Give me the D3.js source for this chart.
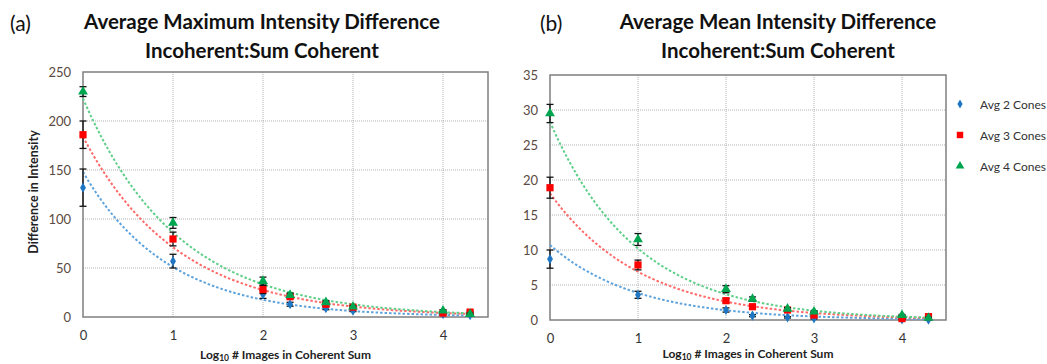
<!DOCTYPE html>
<html>
<head>
<meta charset="utf-8">
<script src="https://cdn.jsdelivr.net/npm/d3@7"></script>
<style>
  html, body { margin: 0; padding: 0; background: #fff; }
  svg { display: block; font-family: Lato, "Open Sans", sans-serif; }
</style>
</head>
<body>
<svg id="chart" width="1047" height="364"></svg>
<script>
// x positions: log10 of # images in the coherent sum
const xLog = [0, 1, 2, 2.301, 2.699, 3, 4, 4.301];
const seriesNames = ["Avg 2 Cones", "Avg 3 Cones", "Avg 4 Cones"];

// (a) average maximum intensity difference
const maxAvg2 = [132, 57, 23, 13, 9, 6.5, 3, 2];
const maxAvg3 = [186, 79.6, 28, 20.7, 13, 10, 4, 5];
const maxAvg4 = [230, 96, 36.7, 22.4, 15, 10.5, 6.4, 3];
const maxErr2 = [19, 7, 4, 2, 1.5, 1, 1, 0.5];
const maxErr3 = [14, 7, 4, 2, 1.5, 1, 1, 1];
const maxErr4 = [5, 5.5, 4, 2, 1.5, 1, 1, 1];
const maxTrendA = [148, 184, 223];
const maxTrendB = [1.065, 0.95, 0.95];
const maxYTicks = [0, 50, 100, 150, 200, 250];

// (b) average mean intensity difference
const meanAvg2 = [8.7, 3.6, 1.43, 0.62, 0.38, 0.24, 0.1, 0.05];
const meanAvg3 = [18.9, 7.86, 2.76, 1.9, 1.43, 0.71, 0.2, 0.48];
const meanAvg4 = [29.5, 11.5, 4.4, 3.0, 1.6, 1.2, 0.7, 0.3];
const meanErr2 = [1.3, 0.5, 0.3, 0.15, 0.1, 0.1, 0.05, 0.05];
const meanErr3 = [1.5, 0.7, 0.3, 0.2, 0.15, 0.1, 0.1, 0.1];
const meanErr4 = [1.3, 0.85, 0.5, 0.3, 0.15, 0.1, 0.1, 0.1];
const meanTrendA = [10.7, 18.1, 28.3];
const meanTrendB = [1.02, 0.965, 1.02];
const meanYTicks = [0, 5, 10, 15, 20, 25, 30, 35];

const xTicks = [0, 1, 2, 3, 4];

const markColors = ["#1f77c4", "#ff0000", "#00a550"];
const trendColors = ["#5fa3dc", "#ff6b6b", "#5fcf8a"];
const markShapes = [d3.symbolDiamond, d3.symbolSquare, d3.symbolTriangle];
const markSizes = [30, 52, 42];

const svg = d3.select("#chart");

function drawPanel(cfg) {
  const x = d3.scaleLinear().domain([0, 4.5]).range([cfg.left, cfg.right]);
  const y = d3.scaleLinear().domain([0, cfg.yMax]).range([cfg.bottom, cfg.top]);
  const g = svg.append("g");

  // grid
  g.selectAll(".hg").data(cfg.yTicks.slice(1, -1)).enter().append("line")
    .attr("x1", cfg.left).attr("x2", cfg.right)
    .attr("y1", d => y(d)).attr("y2", d => y(d))
    .attr("stroke", "#b3b3b3").attr("stroke-width", 1).attr("stroke-dasharray", "1,1");
  g.selectAll(".vg").data(xTicks.slice(1)).enter().append("line")
    .attr("x1", d => x(d)).attr("x2", d => x(d))
    .attr("y1", cfg.top).attr("y2", cfg.bottom)
    .attr("stroke", "#b3b3b3").attr("stroke-width", 1).attr("stroke-dasharray", "1,1");

  // frame
  g.append("rect")
    .attr("x", cfg.left).attr("y", cfg.top)
    .attr("width", cfg.right - cfg.left).attr("height", cfg.bottom - cfg.top)
    .attr("fill", "none").attr("stroke", "#7f7f7f").attr("stroke-width", 1.5);

  // axes (labels only, Excel style)
  const yAxis = g.append("g").attr("transform", `translate(${cfg.left},0)`)
    .call(d3.axisLeft(y).tickValues(cfg.yTicks).tickSize(0).tickPadding(cfg.yPad));
  yAxis.select(".domain").remove();
  yAxis.selectAll("text").attr("font-size", 13).attr("fill", "#5a4a42")
    .attr("font-family", "Lato, sans-serif");

  const xAxis = g.append("g").attr("transform", `translate(0,${cfg.bottom})`)
    .call(d3.axisBottom(x).tickValues(xTicks).tickFormat(d3.format("d")).tickSize(0).tickPadding(14));
  xAxis.select(".domain").remove();
  xAxis.selectAll("text").attr("font-size", 13).attr("fill", "#333")
    .attr("font-family", "Lato, sans-serif");

  // x axis title with subscript
  const xt = g.append("text")
    .attr("x", (cfg.left + cfg.right) / 2).attr("y", cfg.xTitleY)
    .attr("text-anchor", "middle").attr("font-size", 12).attr("font-weight", "bold")
    .attr("fill", "#222");
  xt.append("tspan").text("Log");
  xt.append("tspan").attr("font-size", 8.5).attr("dy", 2).text("10");
  xt.append("tspan").attr("dy", -2).text(" # Images in Coherent Sum");

  // trend lines
  const xs = d3.range(0, 4.31, 0.02);
  const series = cfg.series;
  series.forEach((s, i) => {
    const line = d3.line()
      .x(d => x(d))
      .y(d => y(cfg.trendA[i] * Math.exp(-cfg.trendB[i] * d)));
    g.append("path")
      .attr("d", line(xs))
      .attr("fill", "none")
      .attr("stroke", trendColors[i])
      .attr("stroke-width", 2)
      .attr("stroke-dasharray", "2.5,2");
  });

  // error bars and markers
  series.forEach((s, i) => {
    const pts = xLog.map((xv, j) => ({ x: xv, v: s.vals[j], e: s.errs[j] }));
    const eb = g.append("g").attr("stroke", "#111").attr("stroke-width", 1.3);
    pts.forEach(p => {
      const y1 = y(p.v + p.e), y2 = y(Math.max(0, p.v - p.e)), cx = x(p.x);
      eb.append("line").attr("x1", cx).attr("x2", cx).attr("y1", y1).attr("y2", y2);
      eb.append("line").attr("x1", cx - 3.5).attr("x2", cx + 3.5).attr("y1", y1).attr("y2", y1);
      eb.append("line").attr("x1", cx - 3.5).attr("x2", cx + 3.5).attr("y1", y2).attr("y2", y2);
    });
    g.selectAll(".m" + i).data(pts).enter().append("path")
      .attr("d", d3.symbol().type(markShapes[i]).size(markSizes[i]))
      .attr("transform", d => `translate(${x(d.x)},${y(d.v)})`)
      .attr("fill", markColors[i]);
  });

  // titles
  svg.append("text").attr("x", cfg.tagX).attr("y", 31)
    .attr("font-size", 21).attr("fill", "#111").text(cfg.tag);
  svg.append("text").attr("x", cfg.titleX).attr("y", 29)
    .attr("text-anchor", "middle").attr("font-size", 20.5).attr("font-weight", "bold")
    .attr("fill", "#111").text(cfg.title1);
  svg.append("text").attr("x", cfg.titleX).attr("y", 58)
    .attr("text-anchor", "middle").attr("font-size", 20.5).attr("font-weight", "bold")
    .attr("fill", "#111").text(cfg.title2);
}

drawPanel({
  left: 83, right: 488, top: 72, bottom: 317,
  yMax: 250, yTicks: maxYTicks, yPad: 12, xTitleY: 359,
  series: [
    { vals: maxAvg2, errs: maxErr2 },
    { vals: maxAvg3, errs: maxErr3 },
    { vals: maxAvg4, errs: maxErr4 }
  ],
  trendA: maxTrendA, trendB: maxTrendB,
  tag: "(a)", tagX: 10, titleX: 262,
  title1: "Average Maximum Intensity Difference",
  title2: "Incoherent:Sum Coherent"
});

drawPanel({
  left: 550, right: 946, top: 75, bottom: 320,
  yMax: 35, yTicks: meanYTicks, yPad: 12, xTitleY: 358,
  series: [
    { vals: meanAvg2, errs: meanErr2 },
    { vals: meanAvg3, errs: meanErr3 },
    { vals: meanAvg4, errs: meanErr4 }
  ],
  trendA: meanTrendA, trendB: meanTrendB,
  tag: "(b)", tagX: 540, titleX: 778,
  title1: "Average Mean Intensity Difference",
  title2: "Incoherent:Sum Coherent"
});

// y title on panel (a)
svg.append("text")
  .attr("transform", "translate(38,192) rotate(-90)")
  .attr("text-anchor", "middle").attr("font-size", 12.5).attr("font-weight", "bold")
  .attr("fill", "#222").text("Difference in Intensity");

// legend
const legend = svg.append("g").attr("transform", "translate(960,104)");
seriesNames.forEach((name, i) => {
  const row = legend.append("g").attr("transform", `translate(0,${i * 31})`);
  row.append("path")
    .attr("d", d3.symbol().type(markShapes[i]).size(markSizes[i] * 0.8))
    .attr("fill", markColors[i]);
  row.append("text").attr("x", 20).attr("y", 4.5)
    .attr("font-size", 12).attr("fill", "#333").text(name);
});
</script>
</body>
</html>
